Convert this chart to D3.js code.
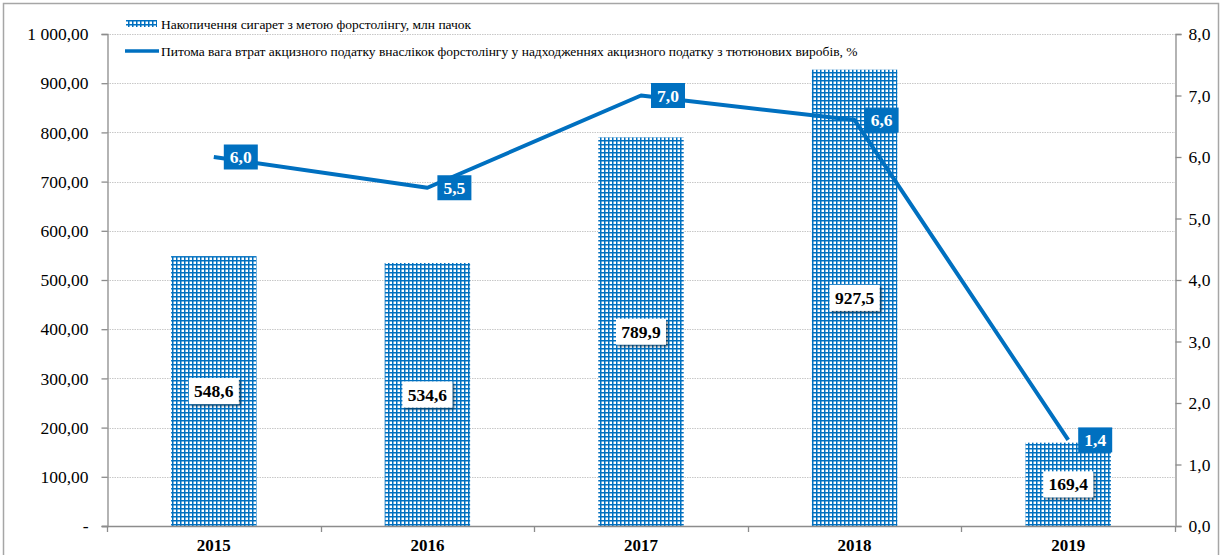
<!DOCTYPE html>
<html>
<head>
<meta charset="utf-8">
<script src="https://cdn.jsdelivr.net/npm/d3@7"></script>
<style>
  body { margin: 0; background: #fff; }
  svg text { font-family: "Liberation Serif", "Times New Roman", "DejaVu Serif", serif; }
</style>
</head>
<body>
<div id="chart"></div>
<script>
// DATA
const years = ["2015", "2016", "2017", "2018", "2019"];
const cigarettes = [548.6, 534.6, 789.9, 927.5, 169.4];
const lossShare = [6.0, 5.5, 7.0, 6.6, 1.4];
const leftTicks = [0, 100, 200, 300, 400, 500, 600, 700, 800, 900, 1000];
const rightTicks = [0, 1, 2, 3, 4, 5, 6, 7, 8];
const legendLabels = [
  "Накопичення сигарет з метою форстолінгу, млн пачок",
  "Питома вага втрат акцизного податку внаслікок форстолінгу у надходженнях акцизного податку з тютюнових виробів, %"
];

const width = 1222, height = 555;
const margin = { top: 34, bottom: 29, left: 107, right: 47 };
const blue = "#0070C0";

const loc = d3.formatLocale({ decimal: ",", thousands: " ", grouping: [3] });
const fmt2 = loc.format(",.2f");
const fmt1 = loc.format(".1f");

const svg = d3.select("#chart").append("svg")
  .attr("width", width)
  .attr("height", height);

// grid pattern for bars
const defs = svg.append("defs");
const pat = defs.append("pattern")
  .attr("id", "grid")
  .attr("patternUnits", "userSpaceOnUse")
  .attr("width", 4)
  .attr("height", 4);
pat.append("rect").attr("width", 4).attr("height", 4).attr("fill", "#fff");
pat.append("rect").attr("x", 0).attr("y", 0).attr("width", 1.5).attr("height", 4).attr("fill", blue);
pat.append("rect").attr("x", 0).attr("y", 0).attr("width", 4).attr("height", 1.5).attr("fill", blue);

const shadow = defs.append("filter").attr("id", "shadow")
  .attr("x", "-20%").attr("y", "-20%").attr("width", "150%").attr("height", "160%");
shadow.append("feDropShadow")
  .attr("dx", 2).attr("dy", 2).attr("stdDeviation", 1.2)
  .attr("flood-color", "#000").attr("flood-opacity", 0.45);

// outer border
svg.append("rect")
  .attr("x", 3.5).attr("y", 3.5)
  .attr("width", 1215).attr("height", 570)
  .attr("fill", "none").attr("stroke", "#a6a6a6").attr("stroke-width", 1.5);

// SCALES
const xScale = d3.scaleBand()
  .domain(years)
  .range([margin.left, width - margin.right])
  .paddingInner(0.6)
  .paddingOuter(0.3);

const yLeft = d3.scaleLinear().domain([0, 1000]).range([height - margin.bottom, margin.top]);
const yRight = d3.scaleLinear().domain([0, 8]).range([height - margin.bottom, margin.top]);

const x0 = margin.left, x1 = width - margin.right, yBase = height - margin.bottom;

// gridlines
svg.append("g")
  .selectAll("line")
  .data(leftTicks.slice(1))
  .join("line")
  .attr("x1", x0).attr("x2", x1)
  .attr("y1", d => Math.round(yLeft(d)) + 0.5)
  .attr("y2", d => Math.round(yLeft(d)) + 0.5)
  .attr("stroke", "#c8c8c8")
  .attr("stroke-dasharray", "1.5,1");

// bars
svg.append("g")
  .selectAll("rect")
  .data(years)
  .join("rect")
  .attr("x", d => xScale(d))
  .attr("y", (d, i) => yLeft(cigarettes[i]))
  .attr("width", xScale.bandwidth())
  .attr("height", (d, i) => yBase - yLeft(cigarettes[i]))
  .attr("fill", "url(#grid)");

// AXES
const leftAxis = d3.axisLeft(yLeft)
  .tickValues(leftTicks)
  .tickSize(6)
  .tickPadding(13)
  .tickFormat(d => d === 0 ? "-" : fmt2(d));
const gl = svg.append("g").attr("transform", `translate(${x0 + 0.5},0)`).call(leftAxis);

const rightAxis = d3.axisRight(yRight)
  .tickValues(rightTicks)
  .tickSize(6)
  .tickPadding(7)
  .tickFormat(d => fmt1(d));
const gr = svg.append("g").attr("transform", `translate(${x1 + 0.5},0)`).call(rightAxis);

[gl, gr].forEach(g => {
  g.attr("font-family", null).attr("font-size", null);
  g.select(".domain").attr("stroke", "#8c8c8c").attr("stroke-width", 1.3);
  g.selectAll(".tick line").attr("stroke", "#8c8c8c").attr("stroke-width", 1.3);
  g.selectAll(".tick text").attr("font-size", 17.5).attr("fill", "#000");
});

// x axis
const bounds = years.map(d => xScale(d) - xScale.step() * xScale.paddingInner() / 2).concat([x1]);
const gx = svg.append("g");
gx.append("line")
  .attr("x1", x0 - 5).attr("x2", x1)
  .attr("y1", yBase + 0.5).attr("y2", yBase + 0.5)
  .attr("stroke", "#8c8c8c").attr("stroke-width", 1.3);
gx.selectAll(".xt")
  .data(bounds)
  .join("line")
  .attr("class", "xt")
  .attr("x1", d => Math.round(d) + 0.5).attr("x2", d => Math.round(d) + 0.5)
  .attr("y1", yBase).attr("y2", yBase + 6)
  .attr("stroke", "#8c8c8c").attr("stroke-width", 1.3);
gx.selectAll("text")
  .data(years)
  .join("text")
  .attr("x", d => xScale(d) + xScale.bandwidth() / 2)
  .attr("y", yBase + 19)
  .attr("dy", "0.35em")
  .attr("text-anchor", "middle")
  .attr("font-weight", "bold")
  .attr("font-size", 17)
  .text(d => d);

// line
const cx = d => xScale(d) + xScale.bandwidth() / 2;
const line = d3.line()
  .x((d, i) => cx(years[i]))
  .y(d => yRight(d));
svg.append("path")
  .datum(lossShare)
  .attr("d", line)
  .attr("fill", "none")
  .attr("stroke", blue)
  .attr("stroke-width", 4)
  .attr("stroke-linejoin", "round");

// bar labels
const barLab = svg.append("g").selectAll("g")
  .data(years)
  .join("g")
  .attr("transform", (d, i) => `translate(${cx(d)},${(yLeft(cigarettes[i]) + yBase) / 2})`);
barLab.append("rect")
  .attr("x", -25).attr("y", -13)
  .attr("width", 50).attr("height", 26)
  .attr("fill", "#fff")
  .attr("filter", "url(#shadow)");
barLab.append("text")
  .attr("text-anchor", "middle")
  .attr("dy", "0.35em")
  .attr("font-weight", "bold")
  .attr("font-size", 17.5)
  .text((d, i) => fmt1(cigarettes[i]));

// line labels
const lineLab = svg.append("g").selectAll("g")
  .data(years)
  .join("g")
  .attr("transform", (d, i) => `translate(${cx(d) + 10},${yRight(lossShare[i])})`);
lineLab.append("rect")
  .attr("x", 0).attr("y", -12.5)
  .attr("width", 34).attr("height", 25)
  .attr("fill", blue);
lineLab.append("text")
  .attr("x", 17)
  .attr("text-anchor", "middle")
  .attr("dy", "0.36em")
  .attr("fill", "#fff")
  .attr("font-weight", "bold")
  .attr("font-size", 17.5)
  .text((d, i) => fmt1(lossShare[i]));

// legend
const leg = svg.append("g");
leg.append("rect")
  .attr("x", 126).attr("y", 20)
  .attr("width", 31).attr("height", 7)
  .attr("fill", "url(#grid)");
leg.append("line")
  .attr("x1", 125).attr("x2", 159)
  .attr("y1", 51).attr("y2", 51)
  .attr("stroke", blue).attr("stroke-width", 3.5);
leg.selectAll("text")
  .data(legendLabels)
  .join("text")
  .attr("x", 161)
  .attr("y", (d, i) => 24 + i * 27)
  .attr("dy", "0.35em")
  .attr("font-size", 13.5)
  .text(d => d);
</script>
</body>
</html>
